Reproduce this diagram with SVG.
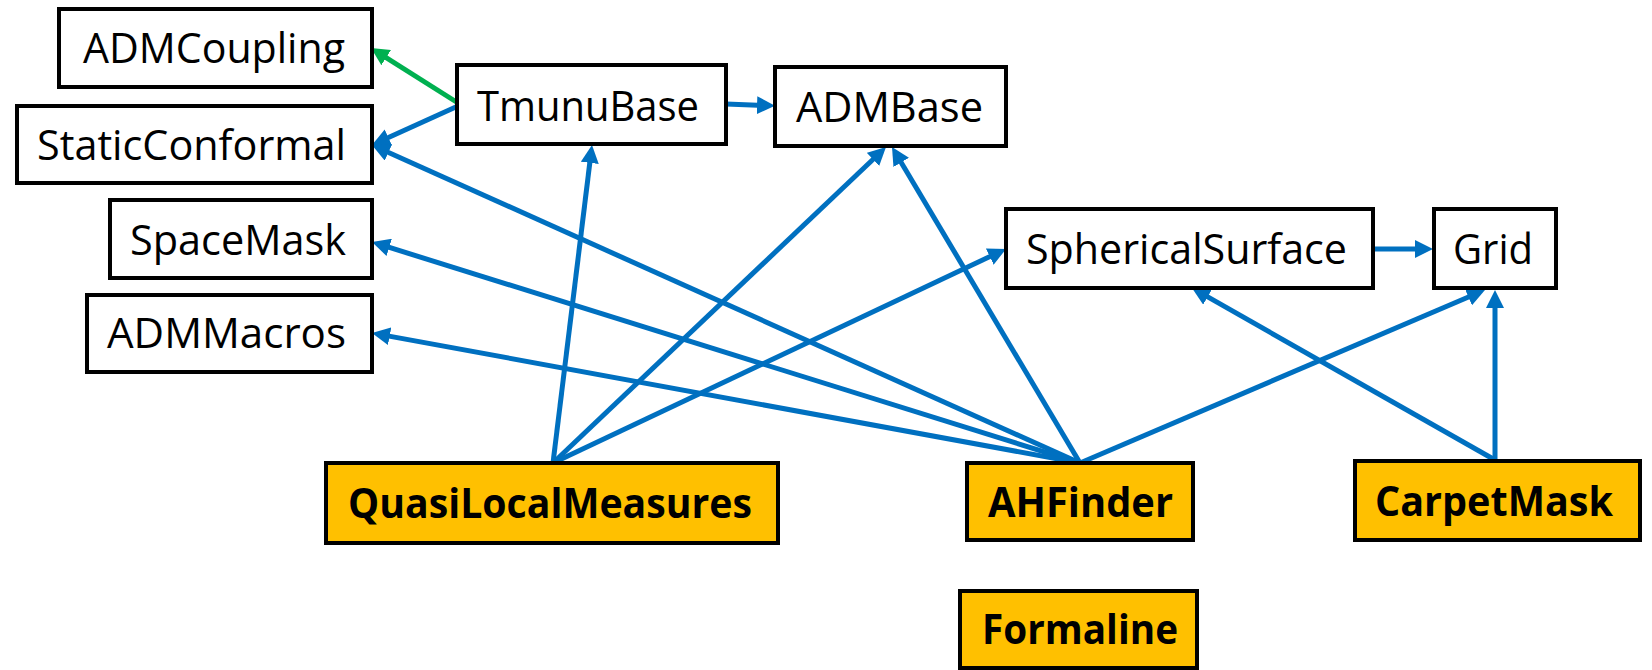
<svg xmlns="http://www.w3.org/2000/svg" width="1652" height="670" viewBox="0 0 1652 670">
<style>
.box{fill:#ffffff;stroke:#000000;stroke-width:4}
.obox{fill:#FFC000;stroke:#000000;stroke-width:4}
.t{font-family:"Open Sans","Noto Sans","Liberation Sans",sans-serif;font-size:42px;fill:#000000}
.b{font-family:"Open Sans","Noto Sans","Liberation Sans",sans-serif;font-size:42px;font-weight:bold;fill:#000000}
.e{fill:none;stroke:#0070C0;stroke-width:5}
.g{fill:none;stroke:#00B050;stroke-width:5}
</style>
<defs>
<marker id="ab" markerUnits="userSpaceOnUse" markerWidth="18" markerHeight="18" refX="9" refY="9" orient="auto"><path d="M0,0 L18,9 L0,18 z" fill="#0070C0"/></marker>
<marker id="ag" markerUnits="userSpaceOnUse" markerWidth="18" markerHeight="18" refX="9" refY="9" orient="auto"><path d="M0,0 L18,9 L0,18 z" fill="#00B050"/></marker>
</defs>
<g id="connectors">
<line class="g" x1="458" y1="103" x2="378.6" y2="52.8" marker-end="url(#ag)"/>
<line class="e" x1="458" y1="106" x2="380.2" y2="141.3" marker-end="url(#ab)"/>
<line class="e" x1="1080" y1="463" x2="380.2" y2="148.7" marker-end="url(#ab)"/>
<line class="e" x1="1080" y1="463" x2="380.6" y2="244.7" marker-end="url(#ab)"/>
<line class="e" x1="1080" y1="463" x2="380.8" y2="334.6" marker-end="url(#ab)"/>
<line class="e" x1="1080" y1="463" x2="896.6" y2="154.7" marker-end="url(#ab)"/>
<line class="e" x1="1080" y1="463" x2="1476.7" y2="293.5" marker-end="url(#ab)"/>
<line class="e" x1="553" y1="463" x2="590.9" y2="153.9" marker-end="url(#ab)"/>
<line class="e" x1="553" y1="463" x2="879.5" y2="153.2" marker-end="url(#ab)"/>
<line class="e" x1="553" y1="463" x2="997.9" y2="252.8" marker-end="url(#ab)"/>
<line class="e" x1="1495" y1="460" x2="1495" y2="299" marker-end="url(#ab)"/>
<line class="e" x1="1495" y1="460" x2="1199.8" y2="292.4" marker-end="url(#ab)"/>
<line class="e" x1="1373" y1="249" x2="1424" y2="249" marker-end="url(#ab)"/>
<line class="e" x1="726" y1="104" x2="766" y2="105.5" marker-end="url(#ab)"/>
</g>
<g id="ADMCoupling"><rect class="box" x="59" y="9" width="313" height="78"/><text class="t" x="83" y="63" textLength="262" lengthAdjust="spacingAndGlyphs">ADMCoupling</text></g>
<g id="StaticConformal"><rect class="box" x="17" y="106" width="355" height="77"/><text class="t" x="37" y="160" textLength="309" lengthAdjust="spacingAndGlyphs">StaticConformal</text></g>
<g id="SpaceMask"><rect class="box" x="110" y="200" width="262" height="78"/><text class="t" x="130" y="255" textLength="216" lengthAdjust="spacingAndGlyphs">SpaceMask</text></g>
<g id="ADMMacros"><rect class="box" x="87" y="295" width="285" height="77"/><text class="t" x="107" y="348" textLength="239" lengthAdjust="spacingAndGlyphs">ADMMacros</text></g>
<g id="TmunuBase"><rect class="box" x="457" y="65" width="269" height="79"/><text class="t" x="477" y="121" textLength="222" lengthAdjust="spacingAndGlyphs">TmunuBase</text></g>
<g id="ADMBase"><rect class="box" x="775" y="67" width="231" height="79"/><text class="t" x="796" y="122" textLength="187" lengthAdjust="spacingAndGlyphs">ADMBase</text></g>
<g id="SphericalSurface"><rect class="box" x="1006" y="209" width="367" height="79"/><text class="t" x="1026" y="264" textLength="321" lengthAdjust="spacingAndGlyphs">SphericalSurface</text></g>
<g id="Grid"><rect class="box" x="1434" y="209" width="122" height="79"/><text class="t" x="1453" y="264" textLength="80" lengthAdjust="spacingAndGlyphs">Grid</text></g>
<g id="QuasiLocalMeasures"><rect class="obox" x="326" y="463" width="452" height="80"/><text class="b" x="348" y="518" textLength="404" lengthAdjust="spacingAndGlyphs">QuasiLocalMeasures</text></g>
<g id="AHFinder"><rect class="obox" x="967" y="463" width="226" height="77"/><text class="b" x="988" y="517" textLength="185" lengthAdjust="spacingAndGlyphs">AHFinder</text></g>
<g id="CarpetMask"><rect class="obox" x="1355" y="461" width="285" height="79"/><text class="b" x="1375" y="516" textLength="238" lengthAdjust="spacingAndGlyphs">CarpetMask</text></g>
<g id="Formaline"><rect class="obox" x="960" y="591" width="237" height="77"/><text class="b" x="982" y="644" textLength="196" lengthAdjust="spacingAndGlyphs">Formaline</text></g>
</svg>
